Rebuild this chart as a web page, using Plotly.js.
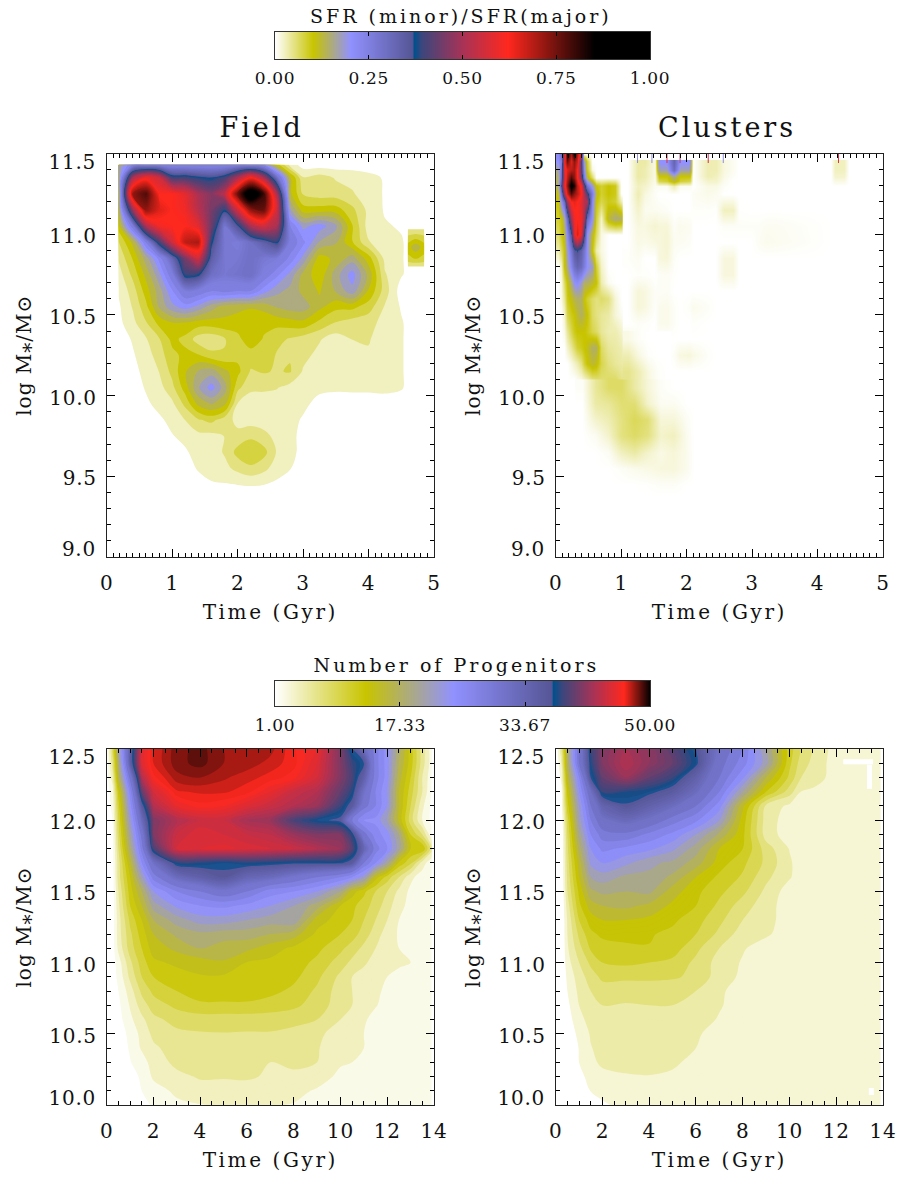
<!DOCTYPE html>
<html><head><meta charset="utf-8">
<script src="https://cdn.plot.ly/plotly-3.0.1.min.js"></script>
<style>
html,body{margin:0;padding:0;background:#fff}
g[class*="tick"] text{letter-spacing:.7px}
text[class*="xtitle"],text[class*="x2title"],text[class*="x3title"],text[class*="x4title"]{letter-spacing:2.6px}
text[class*="ytitle"],text[class*="y2title"],text[class*="y3title"],text[class*="y4title"]{letter-spacing:1px}
.annotation text{letter-spacing:.7px}
</style></head><body><div id="chart" style="width:898px;height:1188px"></div>
<script>
// ---------- colour ramps ----------
const ratioColors=[[0,'rgb(255,255,255)'],[0.1,'rgb(200,196,0)'],[0.2,'rgb(145,145,255)'],[0.365,'rgb(85,85,150)'],[0.37,'rgb(0,80,140)'],[0.39,'rgb(60,70,125)'],[0.5,'rgb(170,50,85)'],[0.62,'rgb(255,40,30)'],[0.85,'rgb(0,0,0)'],[1,'rgb(0,0,0)']];
const countColors=[[0,'rgb(255,255,255)'],[0.24,'rgb(200,196,0)'],[0.475,'rgb(145,145,255)'],[0.737,'rgb(85,85,150)'],[0.741,'rgb(0,80,140)'],[0.765,'rgb(60,70,125)'],[0.85,'rgb(170,50,85)'],[0.93,'rgb(255,40,30)'],[1,'rgb(0,0,0)']];

// ---------- colour bars ----------
const ratioBarX=[0,10,20,30,40,50,60,70,80,90,100];
const ratioBarZ=[ratioBarX,ratioBarX];
const ratioBarTicks=[0,25,50,75,100];
const ratioBarLabels=['0.00','0.25','0.50','0.75','1.00'];
const countBarX=[1,6,11,16,21,26,31,36,41,46,50];
const countBarZ=[countBarX,countBarX];
const countBarTicks=[1,17.33,33.67,50];
const countBarLabels=['1.00','17.33','33.67','50.00'];

// ---------- Field, SFR ratio (percent) ----------
const fieldTime=[.18,.4,.6,.8,1,1.2,1.4,1.6,1.8,2,2.2,2.4,2.6,2.8,3,3.25,3.5,3.75,4,4.25,4.5,4.7];
const fieldMass=[11.43,11.35,11.25,11.15,11.05,10.95,10.85,10.75,10.65,10.55,10.45,10.35,10.25,10.15,10.05,9.95,9.85,9.75,9.65,9.55,9.45,9.35];
const fieldZ=[
[16,24,25,25,24,24,24,24,24,25,24,22,10,3,0,0,0,0,0,0,0,0],
[15,50,60,55,40,40,38,37,40,50,62,50,30,12,4,5,3.5,3,2,1,0,0],
[13,72,78,62,62,58,50,46,52,75,92,80,50,12,6,5,5,4,2.5,1,0,0],
[13,48,72,65,62,60,52,45,38,55,72,76,55,17,10,10,10,7,3,1,0,0],
[10,26,50,60,62,62,58,44,28,36,50,55,50,24,18,20,17,9,2.5,1.5,1,0],
[6,12,24,40,55,68,70,38,28,27,30,34,38,26,22,16,14,9,4,2,1.5,0],
[4,9,15,22,32,45,55,34,28,28,30,28,27,23,18,10,12,15,10,3,1.5,0],
[2.5,7,12,18,26,39,38,30,28,29,30,26,22,18,13,9.5,15,20,13,4,1.5,0],
[1.5,5,10,15,21,27,26,24,25,24,24,20,17,15.5,13,11,14,18,11,5,0,0],
[.8,4,8,14,18,20,18,15,12.5,12,11.5,12,14,15,15,12,9.5,9.5,7.5,3.5,1,0],
[.5,3,6,9.5,11,11,10,10,10.5,10,9.5,9.5,9.5,10,10.5,8,6,5,4.5,3,1.5,0],
[0,1.5,3.5,6,9.5,8,5,4.5,6,8,10.5,8.5,7,6,5,4,2.5,3.8,3.9,2.8,1.5,0],
[0,1,2.5,5,8,9.5,9,7,6.5,8,7.5,8,6,6,4.5,3,2,2.5,3.5,2.5,1.5,0],
[0,.5,2,3.8,7,11,14,15,12,9.5,6,6.5,6,6.5,3.5,2.5,2,2,2.5,2,1.5,0],
[0,0,1.5,2.8,5.5,10,16,20,15,7,4.2,4.2,3.9,2.8,2.5,1.8,1.6,1.8,1.8,2,1.5,0],
[0,0,.8,2,3.2,7,12,14,12,3.7,2.7,2.5,2.5,2.5,1.8,.5,.3,0,0,0,0,0],
[0,0,0,.8,2,3.8,6,7,5,3,2.5,2.5,2.5,2,1,0,0,0,0,0,0,0],
[0,0,0,.3,1.1,2,3,3,3.8,4.5,5.8,4.5,3,2,.5,0,0,0,0,0,0,0],
[0,0,0,0,.3,.9,2.3,2.6,4,7.2,8,7.2,3.5,2,.5,0,0,0,0,0,0,0],
[0,0,0,0,0,.2,1.5,2.2,3,4.5,5.8,4.5,2.5,1.4,0,0,0,0,0,0,0,0],
[0,0,0,0,0,0,.3,1,1.1,1.3,1.4,1.3,.7,0,0,0,0,0,0,0,0,0],
[0,0,0,0,0,0,0,0,0,0,0,0,0,0,0,0,0,0,0,0,0,0]];
const fieldPatchTime=[4.6,4.72,4.85];
const fieldPatchMass=[11.03,10.98,10.92,10.85,10.8];
const fieldPatchZ=[[4,4,4],[7,8,7],[10,13,10],[8,9,8],[4,4,4]];

// ---------- Clusters, SFR ratio (percent) ----------
const clusterTime=[.03,.08,.13,.18,.23,.28,.33,.38,.43,.48,.55,.62,.7,.8,.9,1,1.08];
const clusterMass=[11.5,11.45,11.4,11.35,11.3,11.25,11.2,11.1,11,10.9,10.8,10.7,10.6,10.5,10.4,10.3,10.2,10.1];
const clusterZ=[
[22,30,50,85,70,85,70,55,0,0,0,0,0,0,0,0,0],
[20,25,60,75,65,72,66,40,18,8,0,0,0,0,0,0,0],
[16,28,58,65,68,70,62,42,20,9,1,0,0,0,0,0,0],
[14,30,55,68,78,72,62,45,25,12,6,0,0,0,0,0,0],
[14,37,58,72,88,82,68,60,42,27,18,10,8,10,9,0,0],
[11,28,50,66,78,72,68,62,50,40,25,12,8,10,9,0,0],
[10,20,30,50,62,64,62,58,52,50,22,10,7,9,8,3,0],
[8,10,15,30,50,60,62,60,50,30,20,8,2,12,15,14,3],
[6,9,12,22,36,58,66,58,38,20,12,6,1,0,0,0,0],
[3,6,10,18,27,35,37,33,27,20,10,3,1,0,0,0,0],
[0,2,10,15,23,29,32,30,25,20,18,8,2,0,0,0,0],
[0,1,6,10,15,20,21,18,14,14,12,10,3,.5,0,0,0],
[0,1,4,9,11,13,14,14,10,8,6,5,6,5,1.5,0,0],
[0,0,2,7,9,10,12,14,12,10,6,5,4,3.5,1.5,.5,0],
[0,0,1,4,7,9,10,10,10,9,7,6,4,3,3,2,1],
[0,0,0,2,4,6,8,9,10,11,14,14,6,4,3.5,3,2],
[0,0,0,0,1,2,3,5,8,10,12,11,7,5,4,3.5,2.5],
[0,0,0,0,0,0,.5,1,2,3,5,5.5,5.5,6,6,4.5,4]];
const tailTime=[.4,.6,.8,1,1.2,1.4,1.6,1.8,2,2.1];
const tailMass=[10.05,9.95,9.85,9.75,9.65,9.55,9.45,9.38];
const tailZ=[
[.3,4,6,6,3.5,1.5,.3,0,0,0],
[0,3.5,4,5.5,5.5,2,.5,.5,0,0],
[0,2,3,5,6.5,5.5,1.5,1.5,.4,0],
[0,.5,2,5,6,5,2,2.5,.6,0],
[0,0,.4,2.5,3.5,2,1,1.5,.7,0],
[0,0,0,.3,.7,1,1.3,1.4,.7,0],
[0,0,0,0,0,.1,.3,.3,0,0],
[0,0,0,0,0,0,0,0,0,0]];
const shoulderTime=[1.1,1.25,1.4,1.55,1.7];
const shoulderMass=[10.35,10.25,10.15];
const shoulderZ=[[1,.3,0,0,0],[3,1.2,.2,0,0],[4.5,3,1.2,.3,0]];
const blockTime=[1.1,1.25,1.36,1.52,1.58,1.7,1.8,1.9,2.05,2.1,2.33,2.45,2.57,2.7,2.8,3,3.1,3.22,3.35,4.2,4.26,4.4,4.47];
const blockMass=[11.44,11.4,11.36,11.33,11.3,11.25,11.15,11.05,10.95,10.85,10.75,10.65,10.55,10.45,10.35,10.25,10.15];
const blockZ=[
[0,3.5,3.5,1,20,20,32,20,20,0,3,3,1.2,.5,0,0,0,0,0,0,2.5,2.5,0],
[0,3.5,3,1,17,17,30,17,17,0,3,3,1.2,.5,0,0,0,0,0,0,2.5,2.5,0],
[0,3.5,3,1,10,10,16,10,10,0,3,2.5,1,.3,0,0,0,0,0,0,2,2,0],
[0,3,2.5,.8,7,8,12,8,7,0,2,2,.6,0,0,0,0,0,0,0,1,1,0],
[0,2.5,2,.5,.5,.5,3,.5,.5,0,1,1,.3,0,0,0,0,0,0,0,0,0,0],
[0,3,1.2,.3,0,0,0,0,0,.4,.8,.6,0,0,0,0,0,0,0,0,0,0,0],
[0,2,.6,.6,.5,.3,0,0,0,.2,.2,.1,2.5,2.5,.1,0,0,0,0,0,0,0,0],
[0,1.2,1.2,1.8,1.5,1.5,.3,.7,.5,0,0,0,.3,.3,.3,.3,.3,.5,.5,0,0,0,0],
[0,1,.8,1.2,1.3,1.7,.5,.5,.3,0,0,0,0,0,0,0,.4,.7,.6,0,0,0,0],
[.2,.5,0,0,1.3,1.5,.3,0,0,0,0,0,1.3,1.3,0,0,0,0,0,0,0,0,0],
[0,.2,.2,0,.3,.4,.1,0,0,0,0,0,1.3,1.3,0,0,0,0,0,0,0,0,0],
[0,1.5,1.2,.3,.3,.4,0,0,0,0,0,0,0,0,0,0,0,0,0,0,0,0,0],
[0,1.5,1.2,.2,.7,.8,.3,0,.3,.7,.3,0,0,0,0,0,0,0,0,0,0,0,0],
[0,.3,.2,0,.7,.8,.3,0,0,.2,0,0,0,0,0,0,0,0,0,0,0,0,0],
[1,.2,0,0,0,0,0,0,0,0,0,0,0,0,0,0,0,0,0,0,0,0,0],
[2,.8,0,0,0,0,.3,1.2,1.4,1,.2,0,0,0,0,0,0,0,0,0,0,0,0],
[4,3,1.5,.3,0,0,0,0,0,0,0,0,0,0,0,0,0,0,0,0,0,0,0]];
const speckTime=[1.25,1.47,1.7,1.9,2.33,2.56,4.32];
const speckColor=['#9090e0','#9090e0','#e03040','#c04060','#d03050','#9090e0','#e03040'];
const speckMass=[11.48,11.48,11.48,11.48,11.48,11.48,11.48];

// ---------- Number of progenitors ----------
const countTime=[0,.25,.5,1,1.5,2,3,4,5,6,7,8,9,10,10.5,11,11.5,12,12.5,13,13.5,13.9];
const countMass=[12.5,12.4,12.3,12.2,12.1,12,11.9,11.8,11.7,11.6,11.5,11.4,11.3,11.2,11.1,11,10.9,10.8,10.7,10.6,10.5,10.4,10.3,10.2,10.1,10];
const fieldCountZ=[
[0,8,20,35,45,47,48.3,48.7,48,48,47.7,46.6,45.5,41,37,33,28,24,18,12,6,2],
[0,6,18,35,45,47,48.3,48.7,48,47.8,47.3,46.7,45,41,38.5,37,28,24,17,12,6,2],
[0,4,16,30,43,46.3,47.8,48,47.6,47.2,46.8,46.2,44.5,41,39,35,28,24,16,11,5,1.5],
[0,2,12,26,40,44.5,46.9,47.1,47.1,46.7,45.5,44,43,40,38,32,27,23,15,10,5,1],
[0,1.5,10,24,36,43,45.5,46.3,46,45,44,43,42,38.5,36,30,27,23,15,9,3.5,.5],
[0,1,9,22,33,41,43,44,44,42.5,42,39,37.5,36.5,29,25,24.5,21,14.5,8,3,.5],
[0,.5,8,20,30,41,44,45,44.5,44,43.5,42,41,41,38,30,26,24,19,11,7,1.5],
[0,.3,7,18,28,39,44.5,45,45.2,44.8,44.5,44,43,42,39.5,34,28,25,20,13,13,6],
[0,.2,6,15,25,32,38,38,37.5,38,37.7,37.3,37.3,37.3,36,29,25,20,12.5,9.5,4,1.5],
[0,0,6,13,21,28,33,35,36.5,34,33,31,29,27,25,22,14,10,7,3.5,2,1.5],
[0,0,5,12,17,23,27,29,31,29,26,25,23,19,14,11.5,9,7,4.5,2.5,2,1.8],
[0,0,4.5,11,15,20,23.5,25,25.5,24.5,23,21,18,13,11.5,10,8,6,3.5,2.5,2,1.8],
[0,0,4,9.5,13,17,20,22,22,21,20,20.5,14,12,11,9,7,5,3,2.3,2,1.8],
[0,0,4,8.5,12,15,17.5,18.5,18,18,17,16,12.5,11,10,8,6,4,2.8,2,2,1.8],
[0,0,3.5,8,11,14,15.5,17,16,15.5,14,12.5,11.5,9.5,8,6.5,5,3.2,3,2.5,2,1.8],
[0,0,2,6.5,10,12.5,13.5,14,14.8,12.9,12.5,12,10.5,8,6.5,5.5,3.8,3.4,3.3,3,1.8,1.8],
[0,0,1.5,5.5,9,11,12,12.8,12.7,12.6,12.6,11.5,9.5,6.5,5,3.8,3.4,3,2.5,2,1.8,1.8],
[0,0,1,4,7.5,9.5,11,12.3,12.4,12.4,11.6,10.5,8.6,6,5,3.8,3.2,2.8,2,1.8,1.8,1.8],
[0,0,.5,3.2,6,8,9.5,10.5,10.5,10.5,10,9.5,8,6,5,4,3.1,2.5,1.8,1.8,1.8,1.8],
[0,0,.2,2.5,4.5,6.4,7.8,8,8,8,8,7.5,7,5,4,3.2,2.5,2,1.8,1.8,1.8,1.8],
[0,0,0,1.5,3.7,5.5,6.5,6.8,6.9,6.8,6.8,6.5,5.5,4,3.4,3,2.4,2,1.8,1.8,1.8,1.8],
[0,0,0,1.2,3.3,4.6,6,6.2,6.4,6.4,6.2,6,5.2,3.4,3.1,3,2.2,2,1.8,1.8,1.8,1.8],
[0,0,0,.9,2,4,5.5,5.9,5.9,6,5,5.4,5,3.2,3,2.4,2,2,1.8,1.8,1.8,1.8],
[0,0,0,.5,1.2,3.4,4.5,5.2,5.1,5.2,4.8,4.6,3.8,2.6,2.2,2,2,2,1.8,1.8,1.8,1.8],
[0,0,0,0,1,2,3.5,4.3,4.5,4.4,4.2,3.5,2.8,2,2,2,2,2,1.8,1.8,1.8,1.8],
[0,0,0,0,.5,1.2,2.5,2.9,3.2,3.1,3.1,2.9,2,2,2,2,2,2,1.8,1.8,1.8,1.8]];
const clusterCountZ=[
[0,6,18,30,38.5,41,42.5,41.5,39.5,37,32,28,20,11,8,6,4.5,3,3,3,3,3],
[0,4,17,30,38,41,43,41.5,40,37.5,31,27,21,10.5,7,5.5,4.2,3,3,3,3,3],
[0,2.5,15,26,37,40,42,40,38.5,35,30,24.5,16,9.5,6,5,4.1,3,3,3,3,3],
[0,1.5,12.5,24,32.5,38.5,38,37.5,36,33,28,20,12,7,3.9,3.6,3,3,3,3,3,3],
[0,1,11,22,30,34.5,36.8,35,33,30,25,14.5,5.5,3.5,3,3,3,3,3,3,3,3],
[0,.5,9,21,28,32,33.5,32,29,26.5,22,13,5,3,3,3,3,3,3,3,3,3],
[0,0,8,19,26,29,29.5,27.5,25.5,22,17.5,12.5,5,3,3,3,3,3,3,3,3,3],
[0,0,7.5,17,24,26.5,25.5,24.5,22.5,19,14,12,7,3.9,3,3,3,3,3,3,3,3],
[0,0,7,15,22.5,24,22.5,20.5,19.5,17,13,10.5,7.5,4.3,3,3,3,3,3,3,3,3],
[0,0,6.5,14,20,21,19.5,19.5,17.5,14,11.5,9.7,6.5,4.2,3,3,3,3,3,3,3,3],
[0,0,6,12.5,17.5,18.5,18,18.5,15,12.5,10.5,8.5,5.5,3,3,3,3,3,3,3,3,3],
[0,0,5,11.5,15,16,16.5,15.5,13.5,12,9.5,7,4.8,3,3,3,3,3,3,3,3,3],
[0,0,4.2,10,13,14,14,13.5,12.4,10.8,8.5,6,4.5,3.3,3,3,3,3,3,3,3,3],
[0,0,4,8.5,11.5,12.5,12.3,12.2,11.5,10,7.5,5,4.3,3,3,3,3,3,3,3,3,3],
[0,0,3.7,7.3,10.3,11,11.8,11.9,11,8.5,6,4.2,3,3,3,3,3,3,3,3,3,3],
[0,0,3.2,6,8.5,10,10.4,10,9.5,7.5,5.2,3.8,3,3,3,3,3,3,3,3,3,3],
[0,0,2.5,5,7,8.5,8.5,8.5,8.3,7.5,5,3.6,3,3,3,3,3,3,3,3,3,3],
[0,0,2,4.5,6,7,6.5,6.7,6.6,6,4.3,3.2,3,3,3,3,3,3,3,3,3,3],
[0,0,1.5,4,5,6,5.9,6,6,5.5,4.2,3,3,3,3,3,3,3,3,3,3,3],
[0,0,1,3.4,4.7,5.4,5.5,5.5,5.5,5,3.8,3,3,3,3,3,3,3,3,3,3,3],
[0,0,.5,2.6,4.2,4.8,5.2,5.2,5.1,4.2,3.4,3,3,3,3,3,3,3,3,3,3,3],
[0,0,0,2.1,3.9,4.6,5,5,4.8,4,3,3,3,3,3,3,3,3,3,3,3,3],
[0,0,0,2,3.5,4.4,4.7,4.8,4.3,3.5,3,3,3,3,3,3,3,3,3,3,3,3],
[0,0,0,1.3,2.8,3.4,3.8,3.9,3.7,3,3,3,3,3,3,3,3,3,3,3,3,3],
[0,0,0,.5,2.1,3,3,3,3,3,3,3,3,3,3,3,3,3,3,3,3,3],
[0,0,0,0,.8,1.5,3,3,3,3,3,3,3,3,3,3,3,3,3,3,3,3]];
const gapTime=[12.3,13.57,null,13.42,13.42,null,13.5,13.5];
const gapMass=[12.41,12.41,null,12.39,12.22,null,10.12,10.07];

// ---------- labels ----------
const smallMassTicks=[9.5,10,10.5,11];
const smallMassLabels=['9.5','10.0','10.5','11.0'];
const bigMassTicks=[10.5,11,11.5,12];
const bigMassLabels=['10.5','11.0','11.5','12.0'];
const FONT='"DejaVu Serif", serif';
const W=898,H=1188;
const xf=p=>p/W, yf=p=>1-p/H;
const massTitle='log M\u204E/M\u2299';
const timeTitle='\u00a0Time (Gyr)';

function rev(a){return a.slice().reverse();}
function rampColor(ramp,t){
  t=Math.max(0,Math.min(1,t));
  for(let i=1;i<ramp.length;i++){
    if(t<=ramp[i][0]){
      const a=ramp[i-1],b=ramp[i],f=(t-a[0])/((b[0]-a[0])||1);
      const ca=a[1].match(/\d+/g).map(Number),cb=b[1].match(/\d+/g).map(Number);
      return 'rgb('+ca.map((v,k)=>Math.round(v+(cb[k]-v)*f)).join(',')+')';
    }
  }
  return ramp[ramp.length-1][1];
}
// colour scale for contour levels: stepped bands at low values, the ramp itself above them
function levelScale(ramp,vmin,vmax,start,size,bandWidth,bandEnd){
  const nc=Math.floor((vmax-start)/size)+1, d0=start-size/2, span=nc*size;
  const T=v=>(v-d0)/span, V=v=>(v-vmin)/(vmax-vmin);
  const stops=[[0,'rgb(255,255,255)'],[Math.max(0,T(start)-1e-6),'rgb(255,255,255)']];
  for(let L=start;L<bandEnd-1e-9;L+=bandWidth){
    const c=rampColor(ramp,V(L+bandWidth/2));
    stops.push([T(L),c],[T(L+bandWidth)-1e-6,c]);
  }
  ramp.forEach(s=>{
    const v=vmin+s[0]*(vmax-vmin);
    if(v>bandEnd && T(v)<1) stops.push([T(v),s[1]]);
  });
  stops.push([1,rampColor(ramp,V(d0+span))]);
  return stops;
}
function contour(x,y,z,ramp,vmin,vmax,start,size,bandWidth,bandEnd,ax,ay){
  return {type:'contour',x:x,y:rev(y),z:rev(z),colorscale:levelScale(ramp,vmin,vmax,start,size,bandWidth,bandEnd),showscale:false,autocontour:false,
    contours:{coloring:'fill',start:start,end:vmax,size:size,showlines:false},line:{width:0,smoothing:1},
    xaxis:ax,yaxis:ay,hoverinfo:'skip'};
}
function smooth(x,y,z,ax,ay){
  return {type:'heatmap',x:x,y:rev(y),z:rev(z),colorscale:ratioColors,zmin:0,zmax:100,zsmooth:'best',showscale:false,xaxis:ax,yaxis:ay,hoverinfo:'skip'};
}
const traces=[
 {type:'heatmap',x:ratioBarX,y:[0,1],z:ratioBarZ,colorscale:ratioColors,zmin:0,zmax:100,zsmooth:'best',showscale:false,xaxis:'x5',yaxis:'y5',hoverinfo:'skip'},
 {type:'heatmap',x:countBarX,y:[0,1],z:countBarZ,colorscale:countColors,zmin:1,zmax:50,zsmooth:'best',showscale:false,xaxis:'x6',yaxis:'y6',hoverinfo:'skip'},
 contour(fieldTime,fieldMass,fieldZ,ratioColors,0,100,1.25,.625,2.5,26.25,'x','y'),
 contour(fieldPatchTime,fieldPatchMass,fieldPatchZ,ratioColors,0,100,1.25,.625,2.5,26.25,'x','y'),
 smooth(clusterTime,clusterMass,clusterZ,'x2','y2'),
 smooth(blockTime,blockMass,blockZ,'x2','y2'),
 smooth(shoulderTime,shoulderMass,shoulderZ,'x2','y2'),
 smooth(tailTime,tailMass,tailZ,'x2','y2'),
 {type:'scatter',mode:'markers',x:speckTime,y:speckMass,marker:{symbol:'line-ns',size:9,line:{width:1,color:speckColor}},xaxis:'x2',yaxis:'y2',hoverinfo:'skip'},
 contour(countTime,countMass,fieldCountZ,countColors,1,50,1,.5,2,31,'x3','y3'),
 contour(countTime,countMass,clusterCountZ,countColors,1,50,2,.5,2,32,'x4','y4'),
 {type:'scatter',mode:'lines',x:gapTime,y:gapMass,line:{color:'#fff',width:5},xaxis:'x4',yaxis:'y4',hoverinfo:'skip',connectgaps:false}
];

const tickFont={family:FONT,size:20,color:'#111'};
function xAxis(l,r,range,dtick,minor,anchor){
  return {domain:[xf(l),xf(r)],range:range,tick0:0,dtick:dtick,ticks:'inside',ticklen:8,tickwidth:1,tickcolor:'#000',
    showline:true,linecolor:'#222',linewidth:1,mirror:'allticks',showgrid:false,zeroline:false,tickfont:tickFont,ticklabelstandoff:8,
    minor:{dtick:minor,ticks:'inside',ticklen:4,tickwidth:1,tickcolor:'#000',showgrid:false},
    title:{text:timeTitle,font:{family:FONT,size:20,color:'#111'},standoff:10},anchor:anchor};
}
function yAxis(t,b,range,vals,labels,anchor){
  return {domain:[yf(b),yf(t)],range:range,tickmode:'array',tickvals:vals,ticktext:labels,ticks:'inside',ticklen:8,tickwidth:1,tickcolor:'#000',
    showline:true,linecolor:'#222',linewidth:1,mirror:'allticks',showgrid:false,zeroline:false,tickfont:tickFont,ticklabelstandoff:5,ticklabelshift:2,
    minor:{tick0:range[0],dtick:0.1,ticks:'inside',ticklen:4,tickwidth:1,tickcolor:'#000',showgrid:false},
    title:{text:massTitle,font:{family:FONT,size:20,color:'#111'},standoff:12},anchor:anchor};
}
function barX(l,r,range,vals,labels,anchor){
  return {domain:[xf(l),xf(r)],range:range,tickmode:'array',tickvals:vals,ticktext:labels,ticks:'inside',ticklen:4,tickwidth:1,tickcolor:'#000',
    showline:true,linecolor:'#333',linewidth:1,mirror:'allticks',showgrid:false,zeroline:false,
    tickfont:{family:FONT,size:17,color:'#111'},ticklabelstandoff:4,anchor:anchor};
}
function barY(t,b,anchor){
  return {domain:[yf(b),yf(t)],range:[0,1],showticklabels:false,ticks:'',showline:true,linecolor:'#333',linewidth:1,mirror:true,showgrid:false,zeroline:false,anchor:anchor};
}
function label(text,xp,yp,size,anchor){
  return {text:text,xref:'paper',yref:'paper',x:xf(xp),y:yf(yp),xanchor:anchor||'center',yanchor:'middle',showarrow:false,font:{family:FONT,size:size,color:'#111'}};
}
const layout={width:W,height:H,margin:{l:0,r:0,t:0,b:0},paper_bgcolor:'#fff',plot_bgcolor:'#fff',showlegend:false,
 xaxis:xAxis(106.7,434,[0,5],1,.1,'y'),
 yaxis:yAxis(153.5,557,[9,11.5],smallMassTicks,smallMassLabels,'x'),
 xaxis2:xAxis(555.7,883,[0,5],1,.1,'y2'),
 yaxis2:yAxis(153.5,557,[9,11.5],smallMassTicks,smallMassLabels,'x2'),
 xaxis3:xAxis(106.7,434,[0,14],2,.5,'y3'),
 yaxis3:yAxis(749,1105,[10,12.5],bigMassTicks,bigMassLabels,'x3'),
 xaxis4:xAxis(555.7,883,[0,14],2,.5,'y4'),
 yaxis4:yAxis(749,1105,[10,12.5],bigMassTicks,bigMassLabels,'x4'),
 xaxis5:barX(275,650,[0,100],ratioBarTicks,ratioBarLabels,'y5'),
 yaxis5:barY(32,59,'x5'),
 xaxis6:barX(275,650,[1,50],countBarTicks,countBarLabels,'y6'),
 yaxis6:barY(681,706,'x6'),
 annotations:[
  label('SFR (minor)/SFR(major)',461,16,19),
  label('Number of Progenitors',456,665,19),
  label('Field',261,128,27),
  label('Clusters',727,128,27),
  label('11.5',97,162,20,'right'),label('9.0',97,549,20,'right'),
  label('11.5',546,162,20,'right'),label('9.0',546,549,20,'right'),
  label('12.5',97,757,20,'right'),label('10.0',97,1098,20,'right'),
  label('12.5',546,757,20,'right'),label('10.0',546,1098,20,'right')
 ]};
Plotly.newPlot('chart',traces,layout,{staticPlot:true,displayModeBar:false}).then(()=>{
  document.querySelectorAll('.annotation text').forEach(t=>{
    if(/[A-Za-z]/.test(t.textContent)) t.style.letterSpacing='3px';
  });
});
</script></body></html>
